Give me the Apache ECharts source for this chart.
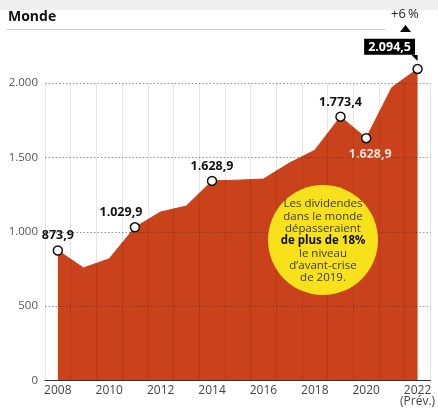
<!DOCTYPE html>
<html lang="fr">
<head>
<meta charset="UTF-8">
<title>Monde</title>
<style>
  html, body { margin: 0; padding: 0; background: #fff; }
  #container { width: 438px; height: 408px; }
</style>
<script src="https://cdn.jsdelivr.net/npm/echarts@6/dist/echarts.min.js"></script>
</head>
<body>
<div id="container"></div>
<script>
// données (milliards de dollars)
var years = ['2008', '2009', '2010', '2011', '2012', '2013', '2014', '2015',
             '2016', '2017', '2018', '2019', '2020', '2021', '2022'];
var dividends = [873.9, 757, 818, 1029.9, 1133, 1173, 1342, 1347,
                 1354, 1461, 1548, 1773.4, 1628.9, 1970, 2094.5];
var pointLabels = ['873,9', null, null, '1.029,9', null, null, '1.628,9', null,
                   null, null, null, '1.773,4', '1.628,9', null, '2.094,5'];
var yTicks = [0, 500, 1000, 1500, 2000];

var red = '#c9421b';
var font = '"Open Sans", Roboto, sans-serif';

function fmt(v) {
  return String(v).replace(/\B(?=(\d{3})+(?!\d))/g, '.');
}

var dom = document.getElementById('container');
var myChart = echarts.init(dom);

// label style per annotated point
var labelStyle = {
  0: { position: 'top', distance: 3 },
  3: { position: 'top', distance: 3, offset: [-14, 0] },
  6: { position: 'top', distance: 3 },
  11: { position: 'top', distance: 3 },
  12: { position: 'bottom', distance: 4, offset: [4, 0], color: '#fbe6dc' },
  14: { position: 'top', distance: 6, offset: [-28, -3], color: '#fff',
        backgroundColor: '#000', padding: [2, 4, 1, 4] }
};

var seriesData = dividends.map(function (v, i) {
  if (!pointLabels[i]) {
    return { value: v, symbol: 'none' };
  }
  var l = labelStyle[i];
  return {
    value: v,
    symbol: 'circle',
    label: Object.assign({
      show: true,
      formatter: pointLabels[i],
      color: '#111',
      fontSize: 12.5,
      fontWeight: 'bold',
      fontFamily: font
    }, l)
  };
});

var option = {
  animation: false,
  backgroundColor: '#fff',
  grid: { left: 45, right: 4, top: 83, bottom: 27 },
  xAxis: {
    type: 'category',
    data: years,
    boundaryGap: true,
    z: 3,
    axisLine: { lineStyle: { color: '#333', width: 1.2 } },
    axisTick: { show: false },
    axisLabel: {
      interval: 1,
      color: '#444',
      fontSize: 12,
      fontFamily: font,
      margin: 5,
      lineHeight: 11,
      formatter: function (v) { return v === '2022' ? '2022\n(Prév.)' : v; }
    },
    splitLine: { show: true, interval: 0, lineStyle: { color: 'rgba(0,0,0,0.1)', width: 1 } }
  },
  yAxis: {
    type: 'value',
    min: 0,
    max: 2000,
    interval: 500,
    z: 3,
    axisLine: { show: false },
    axisTick: { show: false },
    axisLabel: {
      color: '#555',
      fontSize: 11.5,
      fontFamily: font,
      margin: 7,
      formatter: function (v) { return yTicks.indexOf(v) >= 0 ? fmt(v) : ''; }
    },
    splitLine: { lineStyle: { color: 'rgba(60,60,60,0.55)', type: [1.5, 2], width: 1 } }
  },
  series: [{
    type: 'line',
    data: seriesData,
    clip: false,
    showAllSymbol: true,
    symbolSize: 9,
    z: 2,
    lineStyle: { color: red, width: 1 },
    itemStyle: { color: '#fff', borderColor: '#111', borderWidth: 1.5 },
    areaStyle: { color: red, opacity: 1 },
    emphasis: { disabled: true }
  }],
  graphic: [
    { type: 'rect', shape: { x: 0, y: 0, width: 438, height: 10 }, style: { fill: '#efefef' } },
    { type: 'text', left: 8, top: 10, style: { text: 'Monde', font: 'bold 14px ' + font, fill: '#111' } },
    { type: 'line', shape: { x1: 7, y1: 29.5, x2: 385, y2: 29.5 }, style: { stroke: '#ccc', lineWidth: 1 } },
    { type: 'text', left: 391, top: 8, style: { text: '+6\u2009%', font: '13px ' + font, fill: '#222' } },
    { type: 'polygon', shape: { points: [[400, 32], [411, 32], [405.5, 25]] }, style: { fill: '#000' } },
    { type: 'circle', z: 10, shape: { cx: 323, cy: 240, r: 55 }, style: { fill: '#f6e11b' } },
    {
      type: 'text', z: 11, x: 323, y: 241,
      style: {
        text: 'Les dividendes\ndans le monde\ndépasseraient\n{b|de plus de 18%}\nle niveau\nd\u2019avant-crise\nde 2019.',
        align: 'center', verticalAlign: 'middle',
        font: '11.5px ' + font, fill: '#3a3a3a', lineHeight: 12.3,
        rich: { b: { font: 'bold 11.5px ' + font, fill: '#111', lineHeight: 12.3 } }
      }
    }
  ]
};

if (option && typeof option === 'object') {
  myChart.setOption(option, true);
}

// petite pointe du cartouche 2022
var p = myChart.convertToPixel({ gridIndex: 0 }, ['2022', dividends[14]]);
myChart.setOption({
  graphic: option.graphic.concat([{
    type: 'polygon', z: 5,
    shape: { points: [[p[0] - 6, p[1] - 14], [p[0], p[1] - 14], [p[0], p[1] - 8]] },
    style: { fill: '#000' }
  }])
});
</script>
</body>
</html>
